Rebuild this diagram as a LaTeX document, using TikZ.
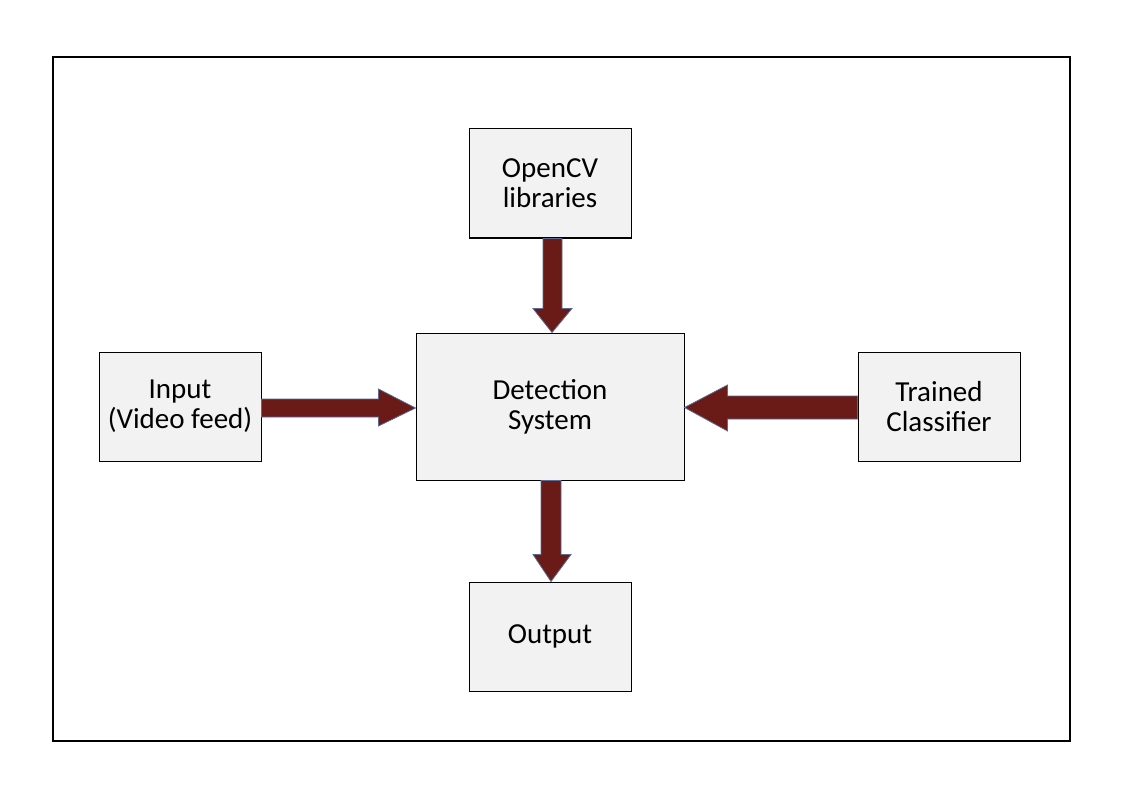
\documentclass[tikz,border=0pt]{standalone}
\usepackage{fontspec}
\setmainfont{Carlito}
\usetikzlibrary{calc}
\definecolor{arrowred}{HTML}{6A1A17}
\definecolor{arrowedge}{HTML}{5B6B94}
\definecolor{boxfill}{HTML}{F2F2F2}
\tikzset{
  blockbox/.style={draw=black, line width=1pt, fill=boxfill, align=center,
    font=\fontsize{29}{30}\selectfont, inner sep=0pt},
  fatarrow/.style={fill=arrowred, draw=arrowedge, line width=0.8pt, line join=miter},
  frame/.style={draw=black, line width=1.5pt}
}
\begin{document}
\begin{tikzpicture}[x=1pt,y=-1pt]
\useasboundingbox (0,0) rectangle (1123,794);
\node[frame, minimum width=1017pt, minimum height=684pt, inner sep=0pt] (frm) at (561.5,399) {};
\node[blockbox, minimum width=162pt, minimum height=109pt] (ocv) at (550,183.5) {OpenCV\\libraries};
\node[blockbox, minimum width=268pt, minimum height=147pt] (det) at (550,406.5) {Detection\\System};
\node[blockbox, minimum width=162pt, minimum height=109pt] (inp) at (180,406.5) {Input\\(Video feed)};
\node[blockbox, minimum width=162pt, minimum height=109pt] (trn) at (939,406.5) {Trained\\Classifier};
\node[blockbox, minimum width=162pt, minimum height=109pt] (out) at (550,636.5) {Output};
% Input -> Detection
\draw[fatarrow] ($(inp.east)+(0,-7.5)$) -- ($(det.west)+(-37,-7.5)$) -- ($(det.west)+(-37,-17.5)$)
  -- ($(det.west)+(0,1.5)$) -- ($(det.west)+(-37,19.5)$) -- ($(det.west)+(-37,10.5)$) -- ($(inp.east)+(0,10.5)$) -- cycle;
% Trained -> Detection
\draw[fatarrow] ($(trn.west)+(0,-10.5)$) -- ($(det.east)+(43,-10.5)$) -- ($(det.east)+(43,-21.5)$)
  -- ($(det.east)+(0,1)$) -- ($(det.east)+(43,24.5)$) -- ($(det.east)+(43,12.5)$) -- ($(trn.west)+(0,12.5)$) -- cycle;
% OpenCV -> Detection
\draw[fatarrow] ($(ocv.south)+(-7,0)$) -- ($(det.north)+(-7,-24)$) -- ($(det.north)+(-17,-24)$)
  -- ($(det.north)+(2,0)$) -- ($(det.north)+(22,-24)$) -- ($(det.north)+(12,-24)$) -- ($(ocv.south)+(12,0)$) -- cycle;
% Detection -> Output
\draw[fatarrow] ($(det.south)+(-9,0)$) -- ($(out.north)+(-9,-27)$) -- ($(out.north)+(-17,-27)$)
  -- ($(out.north)+(1,0)$) -- ($(out.north)+(21,-27)$) -- ($(out.north)+(11,-27)$) -- ($(det.south)+(11,0)$) -- cycle;
\end{tikzpicture}
\end{document}
